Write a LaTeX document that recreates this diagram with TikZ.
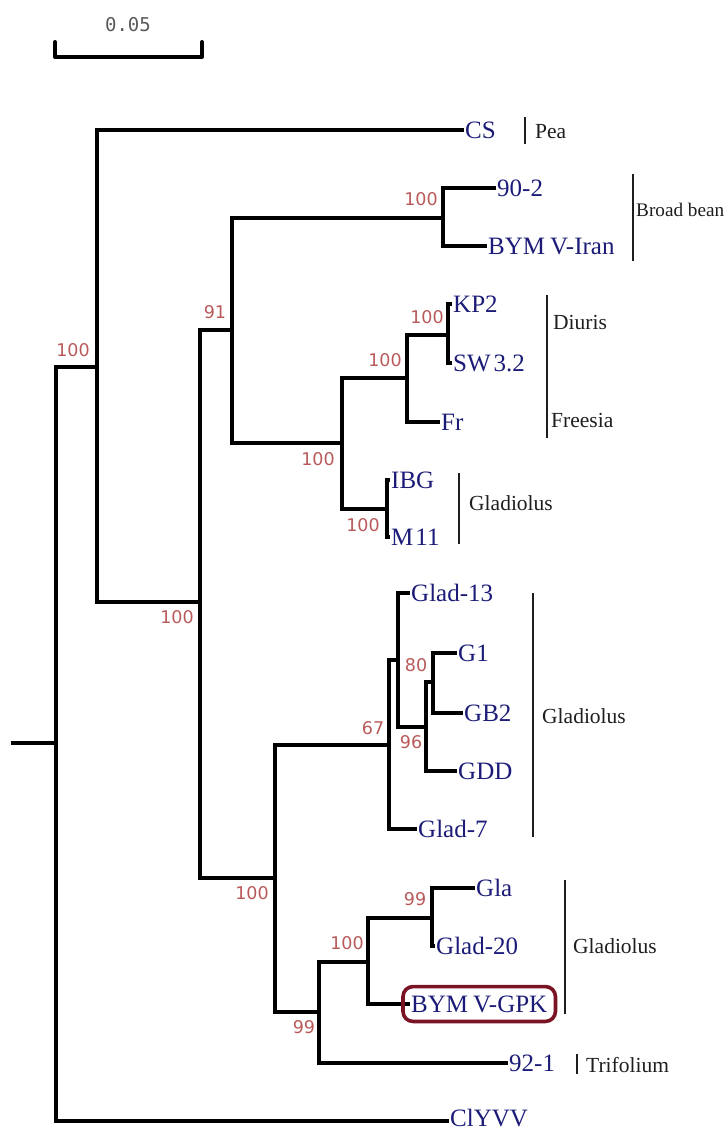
\documentclass[tikz,border=0pt]{standalone}
\usepackage{fontspec}
\setmainfont{Liberation Serif}
\newfontfamily\bootfnt{DejaVu Sans}
\newfontfamily\sbarfnt{DejaVu Sans Mono}
\usetikzlibrary{fit}
\definecolor{taxblue}{RGB}{28,28,120}
\definecolor{bootred}{RGB}{185,90,90}
\definecolor{cladegray}{RGB}{30,30,30}
\definecolor{gpkred}{RGB}{122,20,36}
\definecolor{sbgray}{RGB}{90,90,90}
\tikzset{
  br/.style={line width=4.3pt, line join=miter, line cap=butt},
  taxon/.style={anchor=west, inner sep=1pt, text=taxblue, font=\fontsize{25}{25}\selectfont, text height=16.5pt, text depth=0pt},
  boot/.style={text=bootred, font=\bootfnt\fontsize{17.5}{17.5}\selectfont, inner sep=0pt},
  clade/.style={anchor=west, inner sep=0pt, text=cladegray, font=\fontsize{21.5}{21.5}\selectfont, text height=14pt, text depth=0pt},
  bar/.style={line width=1.4pt, draw=cladegray},
  gpkbox/.style={draw=gpkred, line width=3.6pt, rounded corners=10pt, inner xsep=7pt, inner ysep=8pt},
  sbar/.style={line width=4pt, line join=round, line cap=round}
}
\begin{document}
\begin{tikzpicture}[x=1pt,y=-1pt]
\useasboundingbox (0,0) rectangle (728,1130);
% scale bar
\coordinate (sbL) at (55,42);
\coordinate (sbR) at (202,42);
\draw[sbar] (sbL) |- (128,57) -| (sbR);
\node[text=sbgray, font=\sbarfnt\fontsize{19}{19}\selectfont, inner sep=0pt] (sblab) at (128,25) {0.05};

% internal nodes
\coordinate (stub) at (11,743);
\coordinate (R) at (56,743);
\coordinate (B) at (97,367);
\coordinate (C) at (200,602);
\coordinate (D) at (232,330);
\coordinate (Q) at (443,218);
\coordinate (E) at (342,443);
\coordinate (F) at (407,378);
\coordinate (G) at (448,335);
\coordinate (H) at (387,509);
\coordinate (P) at (275,878);
\coordinate (I) at (389,745);
\coordinate (J) at (398,660);
\coordinate (K) at (426,727);
\coordinate (L) at (433,682);
\coordinate (M) at (319,1012);
\coordinate (N) at (368,962);
\coordinate (O) at (432,918);

% tips
\coordinate (tCS) at (464,130);
\coordinate (t902) at (496,188);
\coordinate (tIran) at (487,246);
\coordinate (tKP2) at (452,304);
\coordinate (tSW) at (452,363);
\coordinate (tFr) at (440,422);
\coordinate (tIBG) at (390,480);
\coordinate (tM11) at (390,537);
\coordinate (tG13) at (410,593);
\coordinate (tG1) at (457,653);
\coordinate (tGB2) at (463,713);
\coordinate (tGDD) at (457,771);
\coordinate (tG7) at (417,829);
\coordinate (tGla) at (475,888);
\coordinate (tG20) at (435,946);
\coordinate (tGPK) at (410,1004);
\coordinate (t921) at (508,1063);
\coordinate (tCl) at (449,1121);

% branches
\draw[br] (stub) -- (R);
\draw[br] (R) |- (B);
\draw[br] (R) |- (tCl);
\draw[br] (B) |- (tCS);
\draw[br] (B) |- (C);
\draw[br] (C) |- (D);
\draw[br] (C) |- (P);
\draw[br] (D) |- (Q);
\draw[br] (D) |- (E);
\draw[br] (Q) |- (t902);
\draw[br] (Q) |- (tIran);
\draw[br] (E) |- (F);
\draw[br] (E) |- (H);
\draw[br] (F) |- (G);
\draw[br] (F) |- (tFr);
\draw[br] (G) |- (tKP2);
\draw[br] (G) |- (tSW);
\draw[br] (H) |- (tIBG);
\draw[br] (H) |- (tM11);
\draw[br] (P) |- (I);
\draw[br] (P) |- (M);
\draw[br] (I) |- (J);
\draw[br] (I) |- (tG7);
\draw[br] (J) |- (tG13);
\draw[br] (J) |- (K);
\draw[br] (K) |- (L);
\draw[br] (K) |- (tGDD);
\draw[br] (L) |- (tG1);
\draw[br] (L) |- (tGB2);
\draw[br] (M) |- (N);
\draw[br] (M) |- (t921);
\draw[br] (N) |- (O);
\draw[br] (N) |- (tGPK);
\draw[br] (O) |- (tGla);
\draw[br] (O) |- (tG20);

% taxon labels
\node[taxon] (CS) at (tCS) {CS};
\node[taxon] (n902) at (t902) {90-2};
\node[taxon] (Iran) at (tIran) {BYM\kern5pt V-Iran};
\node[taxon] (KP2) at (tKP2) {KP2};
\node[taxon] (SW) at (tSW) {SW\kern3pt 3.2};
\node[taxon] (Fr) at (tFr) {Fr};
\node[taxon] (IBG) at (tIBG) {IBG};
\node[taxon] (M11) at (tM11) {M\kern2pt 11};
\node[taxon] (G13) at (tG13) {Glad-13};
\node[taxon] (G1) at (tG1) {G1};
\node[taxon] (GB2) at (tGB2) {GB2};
\node[taxon] (GDD) at (tGDD) {GDD};
\node[taxon] (G7) at (tG7) {Glad-7};
\node[taxon] (Gla) at (tGla) {Gla};
\node[taxon] (G20) at (tG20) {Glad-20};
\node[taxon] (GPK) at (tGPK) {BYM\kern5pt V-GPK};
\node[taxon] (n921) at (t921) {92-1};
\node[taxon, yshift=3pt] (Cl) at (tCl) {ClYVV};
\node[gpkbox, fit=(GPK)] (gpkframe) {};

% bootstrap values
\node[boot] (bB) at (73,350) {100};
\node[boot] (bC) at (177,617) {100};
\node[boot] (bD) at (215,312) {91};
\node[boot] (bQ) at (421,199) {100};
\node[boot] (bG) at (427,317) {100};
\node[boot] (bF) at (385,360) {100};
\node[boot] (bE) at (318,459) {100};
\node[boot] (bH) at (363,525) {100};
\node[boot] (bI) at (373,728) {67};
\node[boot] (bL) at (416,665) {80};
\node[boot] (bK) at (411,742) {96};
\node[boot] (bP) at (252,893) {100};
\node[boot] (bN) at (347,943) {100};
\node[boot] (bO) at (415,899) {99};
\node[boot] (bM) at (304,1027) {99};

% clade bars
\coordinate (peaT) at (525,117); \coordinate (peaB) at (525,144);
\coordinate (bbT) at (633,174); \coordinate (bbB) at (633,261);
\coordinate (diT) at (547,295); \coordinate (diB) at (547,438);
\coordinate (g1T) at (459,473); \coordinate (g1B) at (459,544);
\coordinate (g2T) at (533,593); \coordinate (g2B) at (533,837);
\coordinate (g3T) at (565,880); \coordinate (g3B) at (565,1014);
\coordinate (trT) at (577,1054); \coordinate (trB) at (577,1074);
\draw[bar] (peaT) -- (peaB);
\draw[bar] (bbT) -- (bbB);
\draw[bar] (diT) -- (diB);
\draw[bar] (g1T) -- (g1B);
\draw[bar] (g2T) -- (g2B);
\draw[bar] (g3T) -- (g3B);
\draw[bar] (trT) -- (trB);

% clade labels
\node[clade] (lPea) at (535,131) {Pea};
\node[clade, font=\fontsize{19.2}{19.2}\selectfont, text height=13pt] (lBB) at (636,210) {Broad bean};
\node[clade] (lDi) at (553,322) {Diuris};
\node[clade] (lFr) at (551,420) {Freesia};
\node[clade] (lG1) at (469,503) {Gladiolus};
\node[clade] (lG2) at (542,716) {Gladiolus};
\node[clade] (lG3) at (573,946) {Gladiolus};
\node[clade] (lTr) at (586,1065) {Trifolium};
\end{tikzpicture}
\end{document}
